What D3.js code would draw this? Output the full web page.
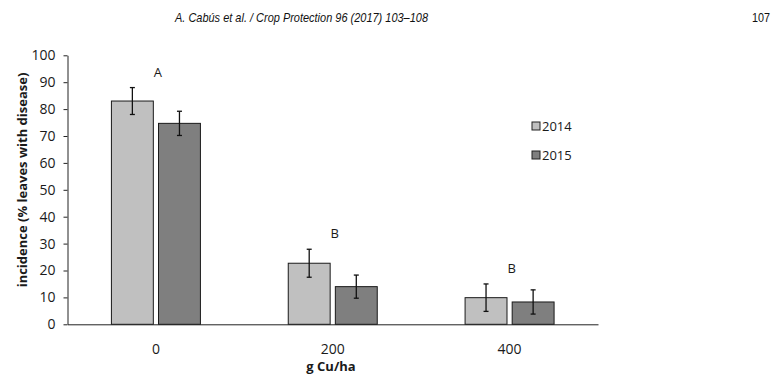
<!DOCTYPE html>
<html>
<head>
<meta charset="utf-8">
<script src="https://cdn.jsdelivr.net/npm/d3@7"></script>
<style>
    body { margin: 0; background: #fff; }
    svg { display: block; }
    .tick text { font-family: "Open Sans", sans-serif; font-size: 14px; fill: #1a1a1a; }
</style>
</head>
<body>
<script>

// Chart data
var doses = ["0", "200", "400"];
var years = ["2014", "2015"];
var incidence2014 = [83, 22.7, 9.9];
var incidence2015 = [74.7, 14, 8.3];
var error2014 = [5, 5.2, 5.1];
var error2015 = [4.5, 4.3, 4.5];
var groupLetters = ["A", "B", "B"];
var yTicks = [0, 10, 20, 30, 40, 50, 60, 70, 80, 90, 100];

var colors = { "2014": "#c0c0c0", "2015": "#7f7f7f" };

window.onload = function() {

    var svgWidth = 774;
    var svgHeight = 377;

    var svg = d3.select("body").append("svg")
        .attr("width", svgWidth)
        .attr("height", svgHeight);

    // Page header
    svg.append("text")
        .attr("x", 175)
        .attr("y", 22)
        .attr("font-family", "'Liberation Sans', sans-serif")
        .attr("font-style", "italic")
        .attr("font-size", 13)
        .attr("textLength", 253)
        .attr("lengthAdjust", "spacingAndGlyphs")
        .attr("fill", "#111")
        .text("A. Cabús et al. / Crop Protection 96 (2017) 103–108");

    svg.append("text")
        .attr("x", 770)
        .attr("y", 22)
        .attr("text-anchor", "end")
        .attr("font-family", "'Liberation Sans', sans-serif")
        .attr("font-size", 12)
        .attr("textLength", 18)
        .attr("lengthAdjust", "spacingAndGlyphs")
        .attr("fill", "#111")
        .text("107");

    // Scales
    var yScale = d3.scaleLinear()
        .domain([0, 100])
        .range([324.3, 55.3]);

    var xScale = d3.scaleBand()
        .domain(doses)
        .range([67.5, 598]);

    var groupWidth = 89;
    var xInner = d3.scaleBand()
        .domain(years)
        .range([-groupWidth / 2, groupWidth / 2])
        .paddingInner(0.11);

    // Build rows from the arrays
    var rows = [];
    doses.forEach(function(dose, i) {
        rows.push({ dose: dose, year: "2014", value: incidence2014[i], err: error2014[i] });
        rows.push({ dose: dose, year: "2015", value: incidence2015[i], err: error2015[i] });
    });

    // Y axis
    var yAxis = svg.append("g")
        .attr("transform", "translate(67.5, 0)")
        .call(d3.axisLeft(yScale).tickValues(yTicks).tickSize(4).tickSizeOuter(0).tickPadding(8));
    yAxis.select(".domain").attr("stroke", "#222");
    yAxis.selectAll(".tick line").attr("stroke", "#222");

    // X axis
    var xAxis = svg.append("g")
        .attr("transform", "translate(0, 324.3)")
        .call(d3.axisBottom(xScale).tickSize(0).tickPadding(20));
    xAxis.select(".domain").attr("stroke", "#222");

    // Bars
    svg.selectAll(".bar")
        .data(rows)
        .enter()
        .append("rect")
        .attr("class", "bar")
        .attr("x", function(d) { return xScale(d.dose) + xScale.bandwidth() / 2 + xInner(d.year); })
        .attr("y", function(d) { return yScale(d.value); })
        .attr("width", xInner.bandwidth())
        .attr("height", function(d) { return yScale(0) - yScale(d.value); })
        .attr("fill", function(d) { return colors[d.year]; })
        .attr("stroke", "#1a1a1a")
        .attr("stroke-width", 1);

    // Error bars
    var errors = svg.selectAll(".err")
        .data(rows)
        .enter()
        .append("g")
        .attr("class", "err")
        .attr("transform", function(d) {
            return `translate(${xScale(d.dose) + xScale.bandwidth() / 2 + xInner(d.year) + xInner.bandwidth() / 2}, 0)`;
        })
        .attr("stroke", "#111")
        .attr("stroke-width", 1.3);

    errors.append("line")
        .attr("y1", function(d) { return yScale(d.value + d.err); })
        .attr("y2", function(d) { return yScale(d.value - d.err); });
    errors.append("line")
        .attr("x1", -2.5).attr("x2", 2.5)
        .attr("y1", function(d) { return yScale(d.value + d.err); })
        .attr("y2", function(d) { return yScale(d.value + d.err); });
    errors.append("line")
        .attr("x1", -2.5).attr("x2", 2.5)
        .attr("y1", function(d) { return yScale(d.value - d.err); })
        .attr("y2", function(d) { return yScale(d.value - d.err); });

    // Significance letters above each group
    svg.selectAll(".letter")
        .data(doses)
        .enter()
        .append("text")
        .attr("class", "letter")
        .attr("x", function(d) { return xScale(d) + xScale.bandwidth() / 2 + 2; })
        .attr("y", function(d, i) {
            var top = Math.max(incidence2014[i] + error2014[i], incidence2015[i] + error2015[i]);
            return yScale(top) - 11;
        })
        .attr("text-anchor", "middle")
        .attr("font-family", "'Open Sans', sans-serif")
        .attr("font-size", 13)
        .attr("fill", "#1a1a1a")
        .text(function(d, i) { return groupLetters[i]; });

    // Axis labels
    svg.append("text")
        .attr("transform", "translate(27, 180) rotate(-90)")
        .attr("text-anchor", "middle")
        .attr("font-family", "'Open Sans', sans-serif")
        .attr("font-weight", "bold")
        .attr("font-size", 13)
        .attr("fill", "#1a1a1a")
        .text("incidence (% leaves with disease)");

    svg.append("text")
        .attr("x", 331)
        .attr("y", 371)
        .attr("text-anchor", "middle")
        .attr("font-family", "'Open Sans', sans-serif")
        .attr("font-weight", "bold")
        .attr("font-size", 13)
        .attr("fill", "#1a1a1a")
        .text("g Cu/ha");

    // Legend
    var legend = svg.selectAll(".legend")
        .data(years)
        .enter()
        .append("g")
        .attr("class", "legend")
        .attr("transform", function(d, i) { return `translate(532, ${122 + i * 29})`; });

    legend.append("rect")
        .attr("width", 8)
        .attr("height", 8)
        .attr("fill", function(d) { return colors[d]; })
        .attr("stroke", "#222")
        .attr("stroke-width", 1);

    legend.append("text")
        .attr("x", 10)
        .attr("y", 9)
        .attr("font-family", "'Open Sans', sans-serif")
        .attr("font-size", 13)
        .attr("fill", "#1a1a1a")
        .text(function(d) { return d; });
};
</script>
</body>
</html>
